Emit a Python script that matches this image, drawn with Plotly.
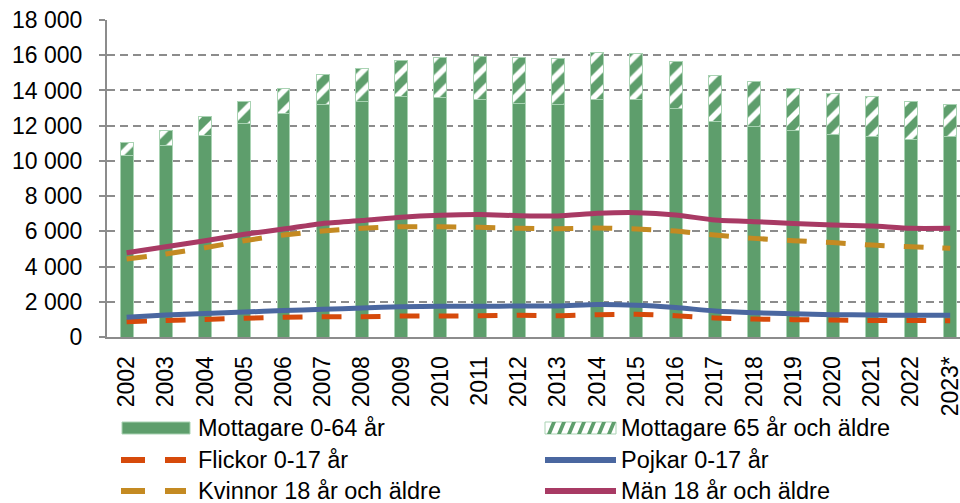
import plotly.graph_objects as go

years = ["2002", "2003", "2004", "2005", "2006", "2007", "2008", "2009", "2010", "2011", "2012",
         "2013", "2014", "2015", "2016", "2017", "2018", "2019", "2020", "2021", "2022", "2023*"]

totals = [11030, 11750, 12530, 13380, 14120, 14880, 15250, 15710, 15880, 15940, 15860,
          15820, 16150, 16110, 15650, 14840, 14500, 14120, 13840, 13650, 13360, 13230]
mottagare_0_64 = [10330, 10860, 11470, 12130, 12700, 13210, 13360, 13650, 13590, 13500, 13270,
                  13230, 13500, 13460, 12990, 12230, 11980, 11700, 11510, 11410, 11190, 11410]
mottagare_65 = [t - m for t, m in zip(totals, mottagare_0_64)]

flickor = [870, 940, 1000, 1060, 1117, 1150, 1150, 1190, 1190, 1210, 1230,
           1210, 1270, 1290, 1210, 1080, 1020, 985, 965, 940, 940, 920]
pojkar = [1117, 1250, 1340, 1420, 1500, 1570, 1650, 1720, 1740, 1740, 1760,
          1760, 1840, 1800, 1670, 1480, 1380, 1320, 1270, 1250, 1230, 1230]
kvinnor = [4430, 4710, 5070, 5470, 5790, 6020, 6170, 6260, 6260, 6230, 6170,
           6150, 6190, 6130, 6020, 5790, 5600, 5470, 5360, 5220, 5130, 5040]
man = [4787, 5130, 5470, 5830, 6130, 6450, 6610, 6800, 6910, 6950, 6890,
       6870, 7020, 7060, 6930, 6640, 6550, 6450, 6360, 6300, 6170, 6170]

legend_labels = ["Mottagare 0-64 år", "Mottagare 65 år och äldre", "Flickor 0-17 år",
                 "Pojkar 0-17 år", "Kvinnor 18 år och äldre", "Män 18 år och äldre"]

green = "#5E9E6C"
border = "#A9D3B3"
c_flickor = "#D64A0B"
c_pojkar = "#4A67A0"
c_kvinnor = "#C48A22"
c_man = "#A83A64"
grey = "#8C8C8C"
FONT = "Arial, Liberation Sans, sans-serif"

W, H = 960, 503
L, R, T, B = 107, 0, 20, 166
PW, PH = W - L - R, H - T - B


def px(x):
    return (x - L) / PW


def py(y):
    return (H - B - y) / PH


fig = go.Figure()
fig.add_trace(go.Bar(
    x=years, y=mottagare_0_64, name=legend_labels[0],
    marker=dict(color=green, line=dict(color=border, width=1)), width=0.33))
fig.add_trace(go.Bar(
    x=years, y=mottagare_65, name=legend_labels[1],
    marker=dict(color="white", line=dict(color=border, width=1),
                pattern=dict(shape="/", fgcolor=green, bgcolor="white", size=14,
                             solidity=0.6, fgopacity=1)),
    width=0.33))

lines = [
    (legend_labels[2], flickor, c_flickor, "20px,19px"),
    (legend_labels[3], pojkar, c_pojkar, "solid"),
    (legend_labels[4], kvinnor, c_kvinnor, "20px,19px"),
    (legend_labels[5], man, c_man, "solid"),
]
for name, vals, col, dash in lines:
    fig.add_trace(go.Scatter(
        x=years, y=vals, name=name, mode="lines",
        line=dict(color=col, width=5, dash=dash, shape="spline", smoothing=0.6)))

# custom legend (two columns, three rows)
shapes = []
annotations = []
rows_y = [428, 460, 491]
col_sym = [(122, 190), (545, 616)]
col_txt = [196, 619]

shapes.append(dict(type="rect", xref="paper", yref="paper",
                   x0=px(122), x1=px(190), y0=py(rows_y[0] + 6), y1=py(rows_y[0] - 6),
                   fillcolor=green, line=dict(color=border, width=1)))
x0, x1 = col_sym[1]
yt, yb = rows_y[0] - 6, rows_y[0] + 6
shapes.append(dict(type="rect", xref="paper", yref="paper",
                   x0=px(x0), x1=px(x1), y0=py(yb), y1=py(yt),
                   fillcolor="white", line=dict(color=border, width=1)))
k = x0 + 2
while k + 9 <= x1:
    path = "M {:.5f},{:.5f} L {:.5f},{:.5f} L {:.5f},{:.5f} L {:.5f},{:.5f} Z".format(
        px(k), py(yb), px(k + 4), py(yb), px(k + 9), py(yt), px(k + 5), py(yt))
    shapes.append(dict(type="path", xref="paper", yref="paper", path=path,
                       fillcolor=green, line=dict(width=0)))
    k += 10

for ry, col in [(rows_y[1], c_flickor), (rows_y[2], c_kvinnor)]:
    for a, b in [(121, 145), (165, 186)]:
        shapes.append(dict(type="line", xref="paper", yref="paper",
                           x0=px(a), x1=px(b), y0=py(ry), y1=py(ry),
                           line=dict(color=col, width=6)))
for ry, col in [(rows_y[1], c_pojkar), (rows_y[2], c_man)]:
    shapes.append(dict(type="line", xref="paper", yref="paper",
                       x0=px(545), x1=px(616), y0=py(ry), y1=py(ry),
                       line=dict(color=col, width=6)))

for i, lab in enumerate(legend_labels):
    r, c = divmod(i, 2)
    annotations.append(dict(text=lab, xref="paper", yref="paper",
                            x=px(col_txt[c]), y=py(rows_y[r]), xanchor="left", yanchor="middle",
                            showarrow=False, font=dict(family=FONT, size=23.5, color="#000000")))

fig.update_layout(
    width=W, height=H,
    margin=dict(l=L, r=R, t=T, b=B, autoexpand=False),
    barmode="stack",
    plot_bgcolor="white", paper_bgcolor="white",
    separators=", ",
    font=dict(family=FONT, size=23, color="#000000"),
    showlegend=False,
    shapes=shapes,
    annotations=annotations,
    xaxis=dict(type="category", range=[-0.5, 21.25], tickangle=-90, automargin=False,
               showline=True, linecolor=grey, linewidth=2, ticks="",
               showgrid=False, tickfont=dict(size=23), ticklabeloverflow="allow",
               ticklabelstandoff=8),
    yaxis=dict(range=[0, 18000], dtick=2000, tickformat=",d", automargin=False,
               showline=True, linecolor=grey, linewidth=2,
               ticks="outside", ticklen=6, tickcolor=grey, tickwidth=1.5,
               showgrid=True, gridcolor=grey, gridwidth=2, griddash="8px,5px",
               zeroline=False, tickfont=dict(size=23), ticklabelstandoff=12),
)

fig.write_html("out.html", config={"displayModeBar": False},
               post_script="document.body.style.margin='0';document.body.style.overflow='hidden';")
